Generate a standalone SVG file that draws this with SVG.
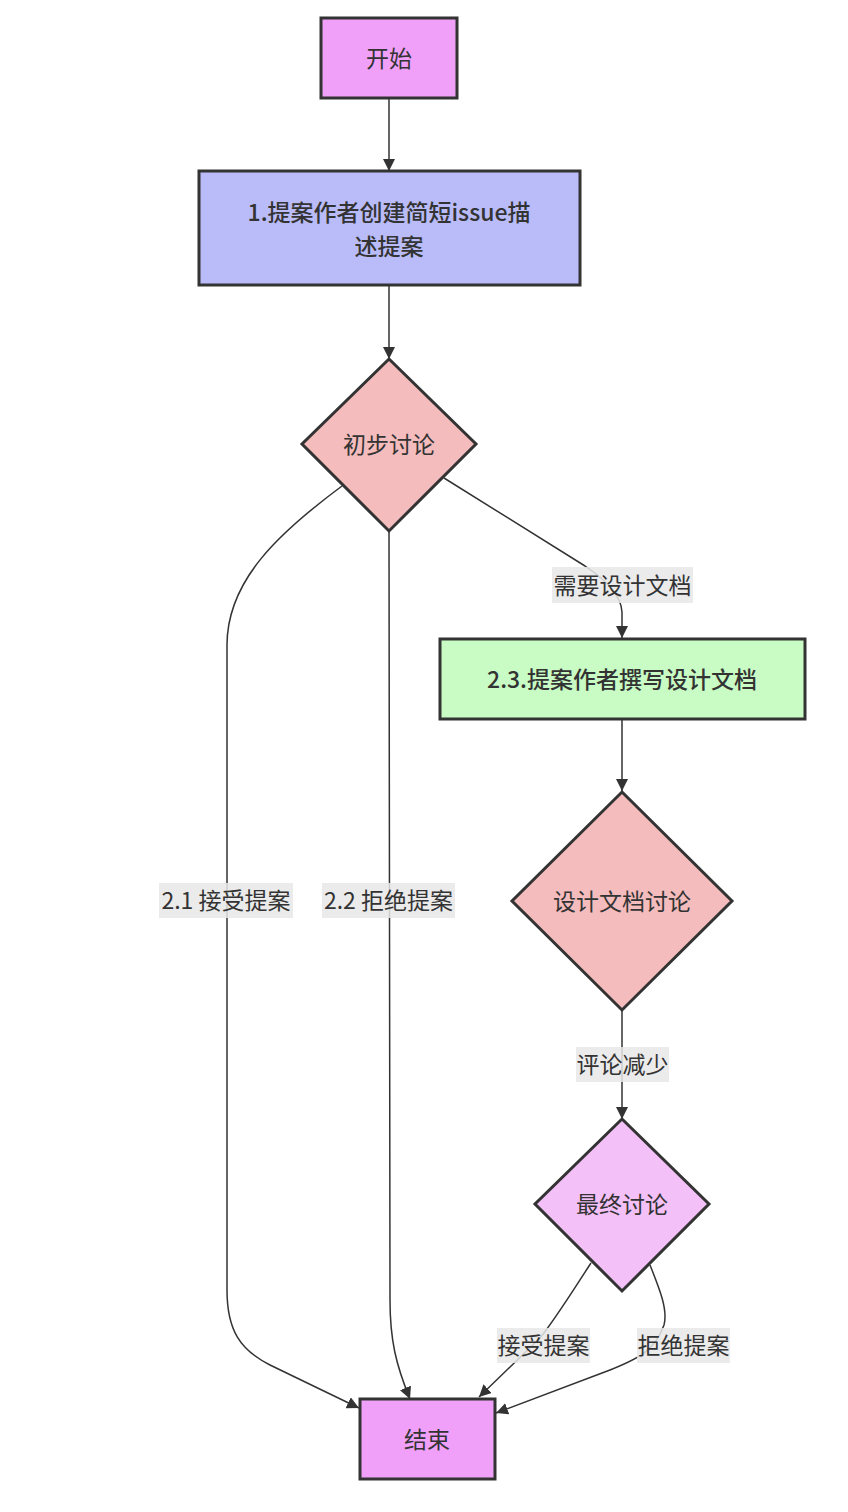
<svg xmlns="http://www.w3.org/2000/svg" width="848" height="1512" viewBox="0 0 848 1512">
<style>
.node{stroke:#333;stroke-width:3}
.t{font-family:"Noto Sans CJK SC","Noto Sans",sans-serif;font-size:23px;fill:#333;text-anchor:middle;dominant-baseline:central}
.b{font-weight:500}
.edge{fill:none;stroke:#333;stroke-width:1.5}
.lbl{fill:#e8e8e8;fill-opacity:0.85}
</style>
<defs>
<marker id="arrow" viewBox="0 0 10 10" refX="10" refY="5" markerWidth="12" markerHeight="12" markerUnits="userSpaceOnUse" orient="auto"><path d="M0,0 L10,5 L0,10 z" fill="#333"/></marker>
</defs>
<rect width="848" height="1512" fill="#fff"/>
<g id="connectors">
<path class="edge" marker-end="url(#arrow)" d="M389,98 L389,171"/>
<path class="edge" marker-end="url(#arrow)" d="M389,285 L389,359"/>
<path class="edge" marker-end="url(#arrow)" d="M444,478 L585,566 Q621,590 622,612 L622,638"/>
<path class="edge" marker-end="url(#arrow)" d="M342,486 C280,532 227,580 227,645 L227,1290 C227,1330 240,1350 270,1365 L359,1408"/>
<path class="edge" marker-end="url(#arrow)" d="M389,531 L390,1300 C390,1340 396,1365 410,1399"/>
<path class="edge" marker-end="url(#arrow)" d="M622,719 L622,791"/>
<path class="edge" marker-end="url(#arrow)" d="M622,1010 L622,1119"/>
<path class="edge" marker-end="url(#arrow)" d="M591,1263 C570,1295 556,1318 540,1338 L479,1397"/>
<path class="edge" marker-end="url(#arrow)" d="M650,1265 C660,1290 668,1310 664,1325 C655,1350 640,1358 610,1370 L496,1413"/>
</g>
<g id="edge-labels">
<g id="lbl-need"><rect class="lbl" x="552" y="567" width="141" height="36"/><text class="t" x="622.5" y="583.5">需要设计文档</text></g>
<g id="lbl-21"><rect class="lbl" x="159" y="883" width="134" height="35"/><text class="t" x="226" y="899">2.1 接受提案</text></g>
<g id="lbl-22"><rect class="lbl" x="322" y="883" width="133" height="35"/><text class="t" x="388.5" y="899">2.2 拒绝提案</text></g>
<g id="lbl-less"><rect class="lbl" x="576" y="1047" width="93" height="35"/><text class="t" x="622.5" y="1063">评论减少</text></g>
<g id="lbl-acc"><rect class="lbl" x="497" y="1328" width="93" height="35"/><text class="t" x="543.5" y="1344">接受提案</text></g>
<g id="lbl-rej"><rect class="lbl" x="637" y="1328" width="93" height="35"/><text class="t" x="683.5" y="1344">拒绝提案</text></g>
</g>
<g id="start"><rect class="node" x="321" y="18" width="136" height="80" fill="#f0a0f8"/><text class="t" x="389" y="56.5">开始</text></g>
<g id="step1"><rect class="node" x="199" y="171" width="381" height="114" fill="#b9bcf9"/><text class="t b" x="389" y="210.5">1.提案作者创建简短issue描</text><text class="t b" x="389" y="244.5">述提案</text></g>
<g id="d1"><polygon class="node" points="389,359 476,444 389,531 302,444" fill="#f4bcbc"/><text class="t" x="389" y="442.5">初步讨论</text></g>
<g id="step23"><rect class="node" x="440" y="639" width="365" height="80" fill="#c8fcc4"/><text class="t b" x="622" y="677.5">2.3.提案作者撰写设计文档</text></g>
<g id="d2"><polygon class="node" points="622,792 732,901 622,1010 512,901" fill="#f4bcbc"/><text class="t" x="622" y="899.5">设计文档讨论</text></g>
<g id="d3"><polygon class="node" points="622,1119 709,1204 622,1291 535,1204" fill="#f4c0f8"/><text class="t" x="622" y="1202.5">最终讨论</text></g>
<g id="end"><rect class="node" x="360" y="1399" width="135" height="80" fill="#f0a0f8"/><text class="t" x="427" y="1437.5">结束</text></g>
</svg>
